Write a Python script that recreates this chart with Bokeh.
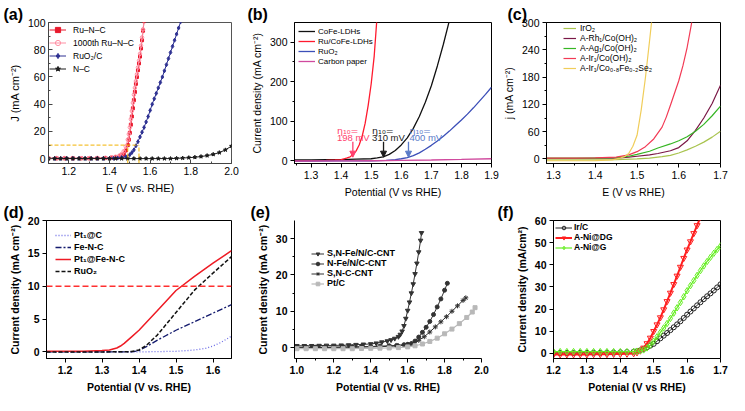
from bokeh.plotting import figure
from bokeh.models import Range1d, FixedTicker, Label, Arrow, NormalHead, Span, PrintfTickFormatter
from bokeh.layouts import row, column
from bokeh.embed import file_html
from bokeh.resources import INLINE

FONT = "Liberation Sans"

# ---------------- (a) ----------------
a_x_ru = [1.10, 1.14, 1.18, 1.22, 1.26, 1.30, 1.34, 1.38, 1.41, 1.43, 1.45, 1.46, 1.47, 1.48, 1.49, 1.495,
          1.50, 1.505, 1.51, 1.515, 1.52, 1.525, 1.53, 1.535, 1.54, 1.545, 1.55, 1.555, 1.56, 1.565, 1.57]
a_y_ru = [0.3, 0.3, 0.3, 0.3, 0.3, 0.3, 0.4, 0.5, 0.8, 1.1, 1.8, 2.5, 3.5, 6.0, 10, 14,
          19, 25, 31, 37, 43, 49, 55, 60, 65, 70, 75, 81, 87, 94, 101]
a_y_1000 = [0.5, 0.5, 0.5, 0.5, 0.5, 0.5, 0.6, 0.7, 1.0, 1.5, 2.5, 3.5, 5.5, 9, 14, 18,
            23, 29, 35, 41, 47, 52, 57, 62, 67, 72, 77, 83, 89, 95, 102]
a_x_ruo2 = [1.10, 1.13, 1.16, 1.19, 1.22, 1.25, 1.28, 1.31, 1.34, 1.37, 1.40, 1.42, 1.44, 1.46, 1.48,
            1.50, 1.51, 1.52, 1.53, 1.54, 1.55, 1.56, 1.57, 1.58, 1.59, 1.60, 1.61, 1.62, 1.63, 1.64,
            1.65, 1.66, 1.67, 1.68, 1.69, 1.70, 1.71, 1.72, 1.73, 1.74, 1.75]
a_y_ruo2 = [0.2, 0.2, 0.2, 0.2, 0.2, 0.2, 0.2, 0.2, 0.2, 0.2, 0.25, 0.3, 0.5, 0.9, 1.5,
            3, 4.5, 6.5, 9.5, 12.5, 16, 19.5, 23, 27, 31, 35.5, 40, 44, 48, 52,
            56, 60, 64.5, 69, 73.5, 78, 82.5, 87, 91.5, 96, 100.5]
a_x_nc = [1.10, 1.13, 1.16, 1.19, 1.22, 1.25, 1.28, 1.31, 1.34, 1.37, 1.40, 1.43, 1.46, 1.49, 1.52, 1.55,
          1.58, 1.61, 1.64, 1.67, 1.70, 1.73, 1.76, 1.79, 1.82, 1.85, 1.88, 1.91, 1.94, 1.97, 2.00]
a_y_nc = [0.1, 0.1, 0.1, 0.1, 0.1, 0.1, 0.1, 0.1, 0.1, 0.1, 0.1, 0.1, 0.1, 0.1, 0.1, 0.1,
          0.1, 0.1, 0.1, 0.1, 0.1, 0.3, 0.5, 0.8, 1.1, 1.6, 2.3, 3.2, 4.5, 6.5, 9.3]
a_eta_x = [1.49, 1.545]
a_eta_j = 10
a_xticks = [1.2, 1.4, 1.6, 1.8, 2.0]
a_yticks = [0, 20, 40, 60, 80, 100]

# ---------------- (b) ----------------
b_x_cofe = [1.245, 1.30, 1.35, 1.40, 1.45, 1.50, 1.52, 1.54, 1.56, 1.58, 1.60, 1.62, 1.64, 1.66, 1.68,
            1.70, 1.72, 1.74, 1.76, 1.78]
b_y_cofe = [2, 2, 2.5, 3, 4, 5, 7, 10, 16, 26, 40, 58, 82, 112, 148, 190, 240, 295, 355, 420]
b_x_ru = [1.245, 1.30, 1.35, 1.38, 1.40, 1.41, 1.42, 1.43, 1.44, 1.45, 1.46, 1.47, 1.48, 1.49, 1.50,
          1.51, 1.52]
b_y_ru = [0, 0.5, 1, 2, 3, 5, 7, 10, 16, 25, 40, 62, 95, 140, 195, 265, 370]
b_x_ruo2 = [1.245, 1.30, 1.40, 1.50, 1.55, 1.58, 1.60, 1.62, 1.64, 1.66, 1.68, 1.70, 1.72, 1.74, 1.76,
            1.78, 1.80, 1.82, 1.84, 1.86, 1.88, 1.90]
b_y_ruo2 = [-1, -1, -0.5, 0, 1, 3, 5, 8, 13, 20, 29, 39, 50, 62, 75, 89, 103, 118, 134, 151, 168, 186]
b_x_cp = [1.245, 1.40, 1.50, 1.60, 1.70, 1.80, 1.90]
b_y_cp = [-1, -0.5, 0, 0.8, 1.8, 3.2, 5]
b_eta_x = [1.439, 1.541, 1.624]
b_eta_mv = ["198 mV", "310 mV", "400 mV"]
b_xticks = [1.3, 1.4, 1.5, 1.6, 1.7, 1.8, 1.9]
b_yticks = [0, 100, 200, 300]

# ---------------- (c) ----------------
c_x_iro2 = [1.283, 1.35, 1.40, 1.45, 1.50, 1.53, 1.56, 1.58, 1.60, 1.62, 1.64, 1.66, 1.68, 1.70]
c_y_iro2 = [-2, -2, -2, -1.5, 0, 2, 5, 8, 13, 20, 28, 37, 48, 61]
c_x_rh = [1.283, 1.35, 1.40, 1.45, 1.48, 1.50, 1.53, 1.55, 1.58, 1.60, 1.62, 1.64, 1.66, 1.68, 1.70]
c_y_rh = [1, 1, 1.5, 2, 4, 6, 9, 12, 18, 25, 40, 63, 90, 122, 162]
c_x_ag = [1.283, 1.35, 1.40, 1.45, 1.48, 1.50, 1.53, 1.55, 1.58, 1.60, 1.62, 1.64, 1.66, 1.68, 1.70]
c_y_ag = [2, 2, 2, 3, 6, 10, 17, 24, 33, 40, 49, 61, 76, 95, 116]
c_x_ir = [1.283, 1.35, 1.40, 1.45, 1.48, 1.50, 1.52, 1.54, 1.56, 1.57, 1.58, 1.59, 1.60, 1.61, 1.62,
          1.63, 1.64]
c_y_ir = [2, 2, 2.5, 4, 9, 16, 27, 44, 70, 92, 118, 145, 172, 205, 245, 295, 350]
c_x_se = [1.283, 1.35, 1.40, 1.44, 1.46, 1.47, 1.48, 1.49, 1.50, 1.51, 1.52, 1.53, 1.54]
c_y_se = [-4, -4, -3.5, -2, 2, 5, 12, 28, 52, 108, 178, 260, 345]
c_xticks = [1.3, 1.4, 1.5, 1.6, 1.7]
c_yticks = [0, 60, 120, 180, 240, 300]

# ---------------- (d) ----------------
d_x_ptc = [1.15, 1.30, 1.40, 1.50, 1.53, 1.55, 1.58, 1.60, 1.62, 1.65]
d_y_ptc = [0, 0, 0, 0.1, 0.2, 0.3, 0.55, 0.9, 1.4, 2.4]
d_x_fenc = [1.15, 1.30, 1.38, 1.40, 1.42, 1.45, 1.50, 1.55, 1.60, 1.65]
d_y_fenc = [0, 0, 0, 0.2, 0.8, 1.8, 3.3, 4.6, 5.9, 7.2]
d_x_ptfenc = [1.15, 1.25, 1.30, 1.32, 1.34, 1.35, 1.36, 1.38, 1.40, 1.45, 1.50, 1.55, 1.60, 1.65]
d_y_ptfenc = [0.1, 0.1, 0.2, 0.3, 0.6, 0.9, 1.3, 2.3, 3.3, 6.3, 9.35, 11.5, 13.5, 15.4]
d_x_ruo2 = [1.15, 1.30, 1.38, 1.40, 1.42, 1.45, 1.50, 1.55, 1.60, 1.65]
d_y_ruo2 = [0, 0, 0.05, 0.3, 1.0, 2.6, 6.0, 9.4, 12.0, 14.5]
d_ref_j = 10
d_xticks = [1.2, 1.3, 1.4, 1.5, 1.6]
d_yticks = [0, 5, 10, 15, 20]

# ---------------- (e) ----------------
e_x_snfe = [1.00, 1.04, 1.08, 1.12, 1.16, 1.20, 1.24, 1.28, 1.32, 1.36, 1.40, 1.43, 1.46, 1.49, 1.51,
            1.53, 1.55, 1.56, 1.57, 1.58, 1.59, 1.60, 1.61, 1.62, 1.63, 1.64, 1.65, 1.66, 1.67, 1.675]
e_y_snfe = [0.5, 0.5, 0.5, 0.55, 0.6, 0.6, 0.65, 0.7, 0.8, 0.9, 1.0, 1.2, 1.5, 1.8, 2.1,
            2.5, 3.0, 3.6, 4.5, 6.0, 8.0, 10.2, 12.5, 15.0, 17.5, 20.3, 23.2, 26.3, 29.5, 31.6]
e_x_nfe = [1.00, 1.05, 1.10, 1.15, 1.20, 1.25, 1.30, 1.35, 1.40, 1.45, 1.50, 1.54, 1.58, 1.60, 1.62,
           1.64, 1.66, 1.68, 1.70, 1.72, 1.74, 1.76, 1.78, 1.80, 1.815]
e_y_nfe = [0.1, 0.1, 0.1, 0.1, 0.15, 0.15, 0.2, 0.25, 0.3, 0.4, 0.5, 0.6, 0.8, 0.9, 1.1,
           1.8, 2.9, 4.2, 5.6, 7.2, 9.1, 11.2, 13.4, 15.8, 17.7]
e_x_snc = [1.00, 1.05, 1.10, 1.15, 1.20, 1.25, 1.30, 1.35, 1.40, 1.45, 1.50, 1.55, 1.60, 1.63, 1.66,
           1.69, 1.72, 1.75, 1.78, 1.81, 1.84, 1.87, 1.90, 1.915]
e_y_snc = [0.0, 0.0, 0.0, 0.05, 0.05, 0.1, 0.1, 0.15, 0.2, 0.25, 0.35, 0.5, 0.8, 1.2, 2.0,
           3.0, 4.3, 5.7, 7.1, 8.5, 10.0, 11.5, 13.0, 13.7]
e_x_ptc = [1.00, 1.05, 1.10, 1.15, 1.20, 1.25, 1.30, 1.35, 1.40, 1.45, 1.50, 1.55, 1.60, 1.64, 1.68,
           1.72, 1.76, 1.80, 1.84, 1.88, 1.92, 1.95, 1.965]
e_y_ptc = [-0.3, -0.3, -0.3, -0.3, -0.3, -0.3, -0.3, -0.25, -0.2, -0.15, -0.1, 0.0, 0.2, 0.5, 1.0,
           1.7, 2.6, 3.8, 5.1, 6.6, 8.3, 9.8, 11.0]
e_xticks = [1.0, 1.2, 1.4, 1.6, 1.8, 2.0]
e_xminor = [1.1, 1.3, 1.5, 1.7, 1.9]
e_yticks = [0, 10, 20, 30]
e_yminor = [5, 15, 25]

# ---------------- (f) ----------------
f_x = [1.20, 1.22, 1.24, 1.26, 1.28, 1.30, 1.32, 1.34, 1.36, 1.38, 1.40, 1.42, 1.44,
       1.45, 1.46, 1.47, 1.48, 1.49, 1.50, 1.51, 1.52, 1.53, 1.54, 1.55, 1.56, 1.57, 1.58, 1.59,
       1.60, 1.61, 1.62, 1.63, 1.64, 1.65, 1.66, 1.67, 1.68, 1.69, 1.70]
f_y_irc = [0.2, 0.2, 0.2, 0.2, 0.3, 0.3, 0.3, 0.3, 0.4, 0.4, 0.5, 0.6, 0.8,
           1.0, 1.4, 2.0, 2.7, 3.5, 4.3, 5.5, 6.8, 8.0, 9.2, 10.5, 11.8, 13.1, 14.5, 16.0,
           17.5, 18.9, 20.3, 21.7, 23.1, 24.5, 25.8, 27.1, 28.4, 29.8, 31.2]
f_y_dg = [-0.5, -0.5, -0.5, -0.5, -0.5, -0.5, -0.4, -0.4, -0.4, -0.3, -0.3, -0.2, 0.0,
          0.4, 1.2, 2.5, 4.5, 7.0, 10.0, 13.0, 16.2, 19.8, 23.5, 27.3, 31.2, 35.0, 39.0, 43.0,
          46.8, 50.5, 54.2, 57.8, 61.5]
f_y_g = [0.8, 0.8, 0.8, 0.8, 0.8, 0.8, 0.8, 0.8, 0.8, 0.8, 0.8, 0.8, 0.9,
         1.0, 1.2, 1.6, 2.5, 3.8, 5.5, 7.5, 9.5, 11.5, 13.5, 15.8, 18.2, 20.6, 23.0, 25.6,
         28.3, 30.6, 32.9, 35.2, 37.4, 39.5, 41.5, 43.4, 45.2, 46.9, 48.5]
f_xticks = [1.2, 1.3, 1.4, 1.5, 1.6, 1.7]
f_yticks = [0, 10, 20, 30, 40, 50, 60]


# ---------------- helpers ----------------
def make_fig(w, h, xr, yr, bl, br, bt, bb, outline="black"):
    p = figure(width=w, height=h, x_range=Range1d(*xr), y_range=Range1d(*yr),
               output_backend="svg", toolbar_location=None,
               min_border_left=bl, min_border_right=br, min_border_top=bt, min_border_bottom=bb)
    p.grid.visible = False
    p.outline_line_color = outline
    p.outline_line_width = 1
    p.outline_line_alpha = 1
    p.background_fill_color = "white"
    p.border_fill_color = "white"
    return p


def style_axes(p, xticks, yticks, xlabel, ylabel, bold, tick_size, label_size,
               xminor=None, yminor=None, inward=False, color="black"):
    st = "bold" if bold else "normal"
    for ax, t, m, lab in ((p.xaxis[0], xticks, xminor, xlabel), (p.yaxis[0], yticks, yminor, ylabel)):
        ax.ticker = FixedTicker(ticks=t, minor_ticks=m or [])
        ax.axis_label = lab
        ax.axis_label_text_font = FONT
        ax.axis_label_text_font_style = st
        ax.axis_label_text_font_size = label_size
        ax.axis_label_text_color = "black"
        ax.major_label_text_font = FONT
        ax.major_label_text_font_style = st
        ax.major_label_text_font_size = tick_size
        ax.major_label_text_color = "black"
        ax.axis_line_color = color
        ax.major_tick_line_color = color
        ax.minor_tick_line_color = color
        ax.axis_label_standoff = 4
        ax.major_label_standoff = 3
        if inward:
            ax.major_tick_in, ax.major_tick_out = 4, 0
            ax.minor_tick_in, ax.minor_tick_out = 2, 0
        else:
            ax.major_tick_in, ax.major_tick_out = 0, 4
            ax.minor_tick_in, ax.minor_tick_out = 0, 2
    p.xaxis[0].formatter = PrintfTickFormatter(format="%.1f")


def style_legend(p, loc, size, bold, row_h, glyph_w, standoff, margin=0):
    lg = p.legend[0]
    lg.location = loc
    lg.label_text_font = FONT
    lg.label_text_font_size = size
    lg.label_text_font_style = "bold" if bold else "normal"
    lg.label_text_color = "black"
    lg.label_height = int(row_h)
    lg.glyph_height = int(row_h)
    lg.glyph_width = int(glyph_w)
    lg.label_standoff = int(standoff)
    lg.spacing = 0
    lg.padding = 0
    lg.margin = margin
    lg.background_fill_alpha = 0
    lg.border_line_color = None


def letter(p, txt, offset):
    p.title.text = txt
    p.title.text_font = FONT
    p.title.text_font_size = "16px"
    p.title.text_font_style = "bold"
    p.title.text_color = "black"
    p.title.align = "left"
    p.title.offset = offset
    p.title.standoff = 0


# ---------------- panel (a) ----------------
pa = make_fig(245, 200, (1.1, 2.0), (-3.5, 100), 48, 14, 22, 33, outline="#555555")
pa.line(a_x_ru, a_y_ru, color="#e8192c", line_width=1, legend_label="Ru–N–C")
pa.scatter(a_x_ru, a_y_ru, marker="square", size=3, color="#e8192c", legend_label="Ru–N–C")
pa.line(a_x_ru, a_y_1000, color="#ff8fa3", line_width=1, legend_label="1000th Ru–N–C")
pa.scatter(a_x_ru, a_y_1000, marker="circle", size=3.5, line_color="#ff8fa3", fill_color=None,
           legend_label="1000th Ru–N–C")
pa.line(a_x_ruo2, a_y_ruo2, color="#2e3192", line_width=1, legend_label="RuO₂/C")
pa.scatter(a_x_ruo2, a_y_ruo2, marker="diamond", size=4, color="#2e3192", legend_label="RuO₂/C")
pa.line(a_x_nc, a_y_nc, color="#1a1a1a", line_width=1, legend_label="N–C")
pa.scatter(a_x_nc, a_y_nc, marker="star", size=4, color="#1a1a1a", legend_label="N–C")
pa.line([1.1, a_eta_x[1]], [a_eta_j, a_eta_j], color="#f2b300", line_dash="4 2", line_width=1)
for xv in a_eta_x:
    pa.line([xv, xv], [-3.5, a_eta_j], color="#f2b300", line_dash="4 2", line_width=1)
style_axes(pa, a_xticks, a_yticks, "E (V vs. RHE)", "J (mA cm⁻²)", False, "10.5px", "11px",
           xminor=[1.1, 1.3, 1.5, 1.7, 1.9], yminor=[10, 30, 50, 70, 90], inward=True, color="#444444")
style_legend(pa, "top_left", "8.5px", False, 13, 17, 7, margin=1)
letter(pa, "(a)", -45)

# ---------------- panel (b) ----------------
pb = make_fig(254, 200, (1.245, 1.9), (-7, 350), 49, 8, 21, 34)
pb.line(b_x_cofe, b_y_cofe, color="#111111", line_width=1.3, legend_label="CoFe-LDHs")
pb.line(b_x_ru, b_y_ru, color="#ff1a2e", line_width=1.3, legend_label="Ru/CoFe-LDHs")
pb.line(b_x_ruo2, b_y_ruo2, color="#3c4fb8", line_width=1.3, legend_label="RuO₂")
pb.line(b_x_cp, b_y_cp, color="#d04a9e", line_width=1.3, legend_label="Carbon paper")
b_colors = ["#ff3f6e", "#1a1a1a", "#5a7bc8"]
b_text_dx = [-0.053, -0.038, 0.003]
for xv, mv, col, dx in zip(b_eta_x, b_eta_mv, b_colors, b_text_dx):
    pb.add_layout(Label(x=xv + dx, y=77, text="η₁₀=", text_font="DejaVu Sans", text_font_size="9.5px",
                        text_color=col, text_baseline="middle", text_align="left"))
    pb.add_layout(Label(x=xv + dx, y=58, text=mv, text_font=FONT, text_font_size="9.5px",
                        text_color=col, text_baseline="middle", text_align="left"))
    pb.add_layout(Arrow(end=NormalHead(size=6, fill_color=col, line_color=col),
                        x_start=xv, y_start=48, x_end=xv, y_end=9, line_color=col, line_width=1.3))
style_axes(pb, b_xticks, b_yticks, "Potential (V vs RHE)", "Current density (mA cm⁻²)", False,
           "10.5px", "10.5px", xminor=[1.25, 1.35, 1.45, 1.55, 1.65, 1.75, 1.85], yminor=[50, 150, 250])
style_legend(pb, "top_left", "8px", False, 10, 17, 3, margin=4)
letter(pb, "(b)", -47)

# ---------------- panel (c) ----------------
pc = make_fig(230, 200, (1.283, 1.7), (-10, 300), 39, 9, 22, 33)
pc.line(c_x_iro2, c_y_iro2, color="#a9c44f", line_width=1.2, legend_label="IrO₂")
pc.line(c_x_rh, c_y_rh, color="#7a1846", line_width=1.2, legend_label="A-Rh₁/Co(OH)₂")
pc.line(c_x_ag, c_y_ag, color="#36b624", line_width=1.2, legend_label="A-Ag₁/Co(OH)₂")
pc.line(c_x_ir, c_y_ir, color="#f23a55", line_width=1.2, legend_label="A-Ir₁/Co(OH)₂")
pc.line(c_x_se, c_y_se, color="#f0cd5a", line_width=1.2, legend_label="A-Ir₁/Co₀.₈Fe₀.₂Se₂")
style_axes(pc, c_xticks, c_yticks, "E (V vs RHE)", "j (mA cm⁻²)", False, "10.5px", "10.5px",
           xminor=[1.35, 1.45, 1.55, 1.65], yminor=[30, 90, 150, 210, 270])
style_legend(pc, (17, 90), "8.5px", False, 10, 13, 4)
letter(pc, "(c)", -39)

# ---------------- panel (d) ----------------
pd_ = make_fig(250, 195, (1.15, 1.65), (-1, 20), 46, 19, 18, 30)
pd_.add_layout(Span(location=d_ref_j, dimension="width", line_color="#ff3030", line_dash="6 3",
                    line_width=1.5))
pd_.line(d_x_ptc, d_y_ptc, color="#6c6ce6", line_width=1.3, line_dash="1 2", legend_label="Pt₁@C")
pd_.line(d_x_fenc, d_y_fenc, color="#141b6e", line_width=1.3, line_dash="6 2 2 2", legend_label="Fe-N-C")
pd_.line(d_x_ptfenc, d_y_ptfenc, color="#ee1b24", line_width=1.5, legend_label="Pt₁@Fe-N-C")
pd_.line(d_x_ruo2, d_y_ruo2, color="#111111", line_width=1.5, line_dash="4 2", legend_label="RuO₂")
style_axes(pd_, d_xticks, d_yticks, "Potential (V vs. RHE)", "Current density (mA cm⁻²)", True,
           "10.5px", "10.5px")
style_legend(pd_, "top_left", "9px", True, 12, 16, 3, margin=9)
letter(pd_, "(d)", -43)

# ---------------- panel (e) ----------------
pe = make_fig(247, 195, (0.987, 2.0), (-3, 35), 44, 16, 20, 30, outline=None)
dark = "#333333"
pe.line(e_x_snfe, e_y_snfe, color=dark, line_width=1, legend_label="S,N-Fe/N/C-CNT")
pe.scatter(e_x_snfe, e_y_snfe, marker="inverted_triangle", size=4.5, color=dark, legend_label="S,N-Fe/N/C-CNT")
pe.line(e_x_nfe, e_y_nfe, color=dark, line_width=1, legend_label="N-Fe/N/C-CNT")
pe.scatter(e_x_nfe, e_y_nfe, marker="circle", size=4, color=dark, legend_label="N-Fe/N/C-CNT")
pe.line(e_x_snc, e_y_snc, color=dark, line_width=1, legend_label="S,N-C-CNT")
pe.scatter(e_x_snc, e_y_snc, marker="asterisk", size=5, color=dark, legend_label="S,N-C-CNT")
pe.line(e_x_ptc, e_y_ptc, color="#b8b8b8", line_width=1.2, legend_label="Pt/C")
pe.scatter(e_x_ptc, e_y_ptc, marker="square", size=4, color="#b8b8b8", legend_label="Pt/C")
style_axes(pe, e_xticks, e_yticks, "Potential (V vs. RHE)", "Current density (mA cm⁻²)", True,
           "10.5px", "10.5px", xminor=e_xminor, yminor=e_yminor)
style_legend(pe, (17, 70), "9px", True, 9, 13, 3)
letter(pe, "(e)", -44)

# ---------------- panel (f) ----------------
pf = make_fig(232, 195, (1.2, 1.7), (-2.3, 60), 56, 9, 19, 30)
pf.line(f_x, f_y_irc, color="#222222", line_width=1, legend_label="Ir/C")
pf.scatter(f_x, f_y_irc, marker="circle", size=5, line_color="#222222", fill_color=None,
           legend_label="Ir/C")
pf.line(f_x[:len(f_y_dg)], f_y_dg, color="#ff1f1f", line_width=2, legend_label="A-Ni@DG")
pf.scatter(f_x[:len(f_y_dg)], f_y_dg, marker="inverted_triangle", size=6, line_color="#ff1f1f",
           fill_color=None, legend_label="A-Ni@DG")
pf.line(f_x, f_y_g, color="#66ee22", line_width=1.2, legend_label="A-Ni@G")
pf.scatter(f_x, f_y_g, marker="diamond", size=6.5, line_color="#66ee22", fill_color=None,
           legend_label="A-Ni@G")
style_axes(pf, f_xticks, f_yticks, "Potenial (V vs RHE)", "Current density (mA/cm²)", True,
           "10.5px", "10.5px")
style_legend(pf, "top_left", "8.5px", True, 9, 17, 2, margin=2)
letter(pf, "(f)", -56)

layout = column(row(pa, pb, pc), row(pd_, pe, pf))
open("out.html", "w").write(file_html(layout, INLINE))
